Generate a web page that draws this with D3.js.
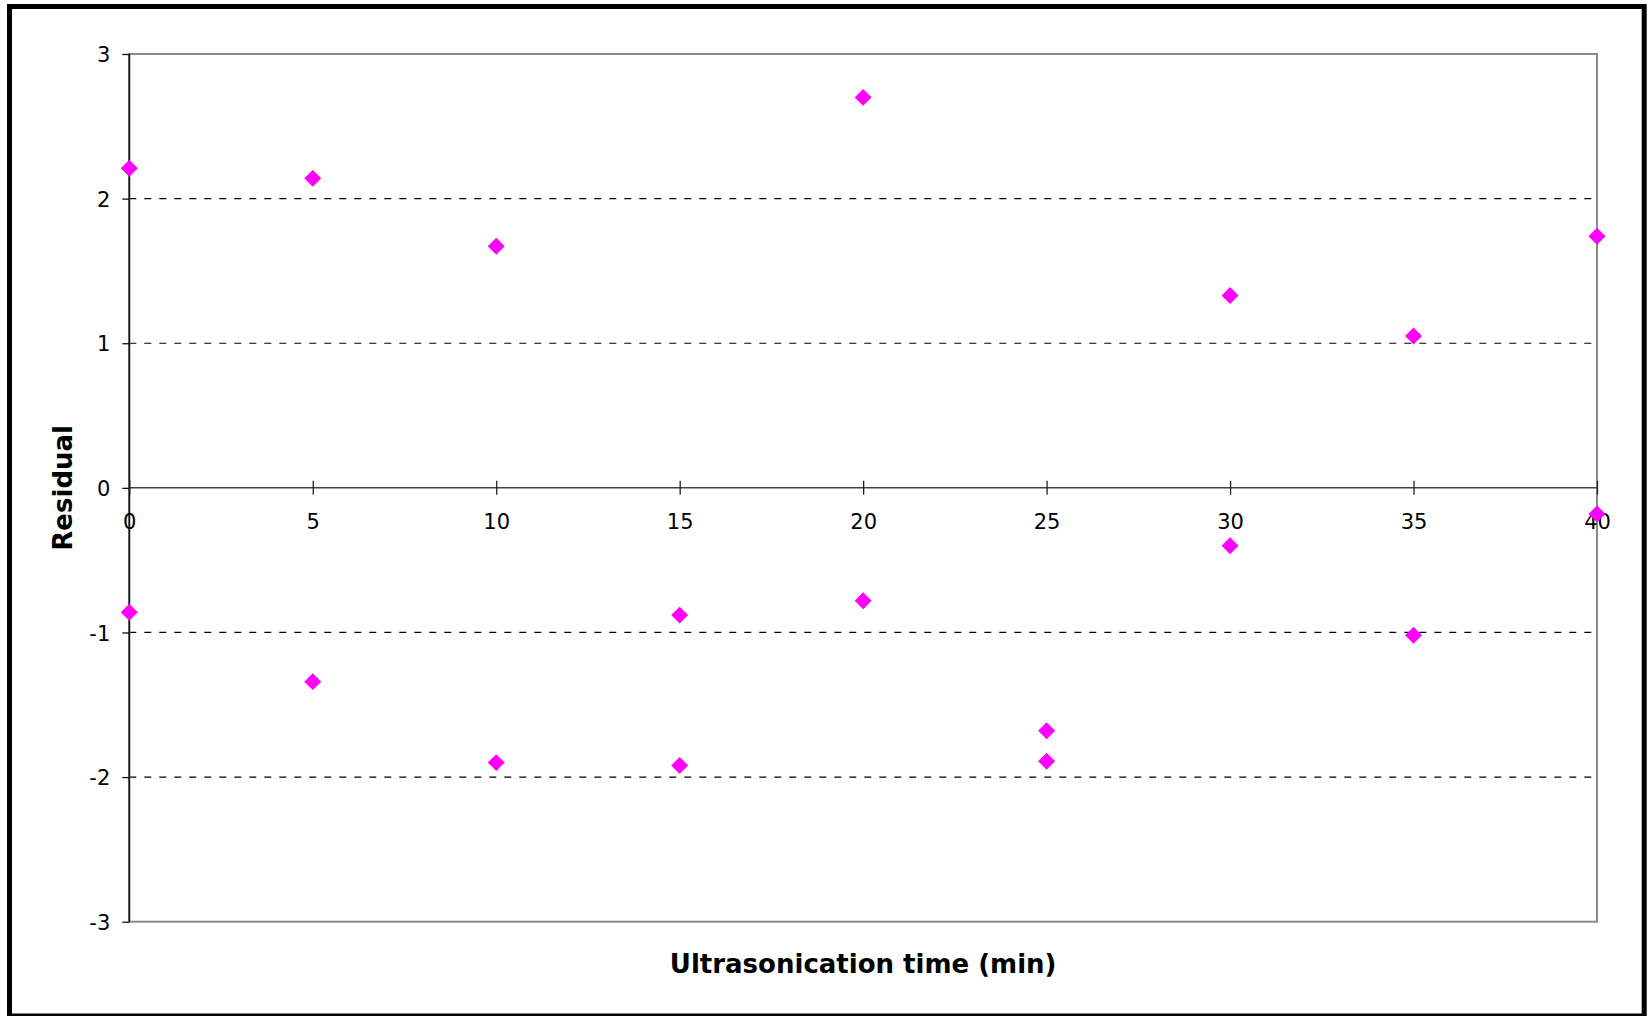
<!DOCTYPE html>
<html>
<head>
<meta charset="utf-8">
<script src="https://cdn.jsdelivr.net/npm/d3@7"></script>
<style>
  body { margin: 0; background: #fff; }
</style>
</head>
<body>
<div id="chart"></div>
<script>
// residuals vs ultrasonication time, two replicates per time
var timeMin  = [0, 0, 5, 5, 10, 10, 15, 15, 20, 20, 25, 25, 30, 30, 35, 35, 40, 40];
var residual = [2.21, -0.86, 2.14, -1.34, 1.67, -1.90, -0.88, -1.92, 2.70, -0.78,
                -1.68, -1.89, 1.33, -0.40, 1.05, -1.02, 1.74, -0.18];
var xTicks = [0, 5, 10, 15, 20, 25, 30, 35, 40];
var yTicks = [-3, -2, -1, 0, 1, 2, 3];
var gridValues = [-2, -1, 1, 2];

var W = 1651, H = 1016;
// note: "top" is taken by window.top, so use plot* names
var plotLeft = 129.3, plotRight = 1597, plotTop = 54, plotBottom = 921.7;

var svg = d3.select("#chart")
            .append("svg")
            .attr("width", W)
            .attr("height", H);

// outer frame
svg.append("rect")
   .attr("x", 9.5)
   .attr("y", 6.5)
   .attr("width", 1634.7)
   .attr("height", 1009.5)
   .attr("fill", "none")
   .attr("stroke", "#000")
   .attr("stroke-width", 5);

var x = d3.scaleLinear().domain([0, 40]).range([plotLeft, plotRight]);
var y = d3.scaleLinear().domain([-3, 3]).range([plotBottom, plotTop]);

// dashed gridlines
svg.selectAll("line.grid")
   .data(gridValues)
   .enter()
   .append("line")
   .attr("class", "grid")
   .attr("x1", plotLeft)
   .attr("x2", plotRight)
   .attr("y1", function(d) { return y(d); })
   .attr("y2", function(d) { return y(d); })
   .attr("stroke", "#000")
   .attr("stroke-width", 1.2)
   .attr("stroke-dasharray", "7,8");

// plot area border (grey)
svg.append("rect")
   .attr("x", plotLeft)
   .attr("y", plotTop)
   .attr("width", plotRight - plotLeft)
   .attr("height", plotBottom - plotTop)
   .attr("fill", "none")
   .attr("stroke", "#8a8a8a")
   .attr("stroke-width", 2);

// plain hyphen for negatives, like the original
var plainNum = function(d) { return String(d); };

// y axis
var yAxis = svg.append("g")
   .attr("transform", "translate(" + plotLeft + ",0)")
   .call(d3.axisLeft(y).tickValues(yTicks).tickSize(7).tickFormat(plainNum));
yAxis.select(".domain")
   .attr("stroke", "#111")
   .attr("stroke-width", 1.6)
   .attr("d", "M0," + plotTop + "V" + plotBottom);
yAxis.selectAll(".tick line").attr("stroke", "#111").attr("stroke-width", 1.3);
yAxis.selectAll(".tick text")
   .attr("x", -19)
   .attr("dy", "0.36em")
   .attr("fill", "#000")
   .attr("font-family", "DejaVu Sans, Verdana, sans-serif")
   .attr("font-size", "21px");

// x axis along zero
var xAxis = svg.append("g")
   .attr("transform", "translate(0," + y(0) + ")")
   .call(d3.axisBottom(x).tickValues(xTicks).tickSize(7).tickFormat(plainNum));
xAxis.select(".domain")
   .attr("stroke", "#444")
   .attr("stroke-width", 1.5)
   .attr("d", "M" + plotLeft + ",0H" + plotRight);
xAxis.selectAll(".tick line")
   .attr("y1", -7)
   .attr("y2", 7)
   .attr("stroke", "#222")
   .attr("stroke-width", 1.3);
xAxis.selectAll(".tick text")
   .attr("y", 41)
   .attr("dy", 0)
   .attr("fill", "#000")
   .attr("font-family", "DejaVu Sans, Verdana, sans-serif")
   .attr("font-size", "21px");

// points
svg.selectAll("path.pt")
   .data(d3.range(timeMin.length))
   .enter()
   .append("path")
   .attr("class", "pt")
   .attr("d", d3.symbol(d3.symbolSquare, 144))
   .attr("transform", function(i) {
        return "translate(" + x(timeMin[i]) + "," + y(residual[i]) + ") rotate(45)";
   })
   .attr("fill", "#ff00ff");

// axis titles
svg.append("text")
   .text("Ultrasonication time (min)")
   .attr("x", (plotLeft + plotRight) / 2)
   .attr("y", 972.7)
   .attr("text-anchor", "middle")
   .attr("font-family", "DejaVu Sans, Verdana, sans-serif")
   .attr("font-weight", "bold")
   .attr("font-size", "26px");

svg.append("text")
   .text("Residual")
   .attr("transform", "translate(72," + (plotTop + plotBottom) / 2 + ") rotate(-90)")
   .attr("text-anchor", "middle")
   .attr("font-family", "DejaVu Sans, Verdana, sans-serif")
   .attr("font-weight", "bold")
   .attr("font-size", "26px");
</script>
</body>
</html>
